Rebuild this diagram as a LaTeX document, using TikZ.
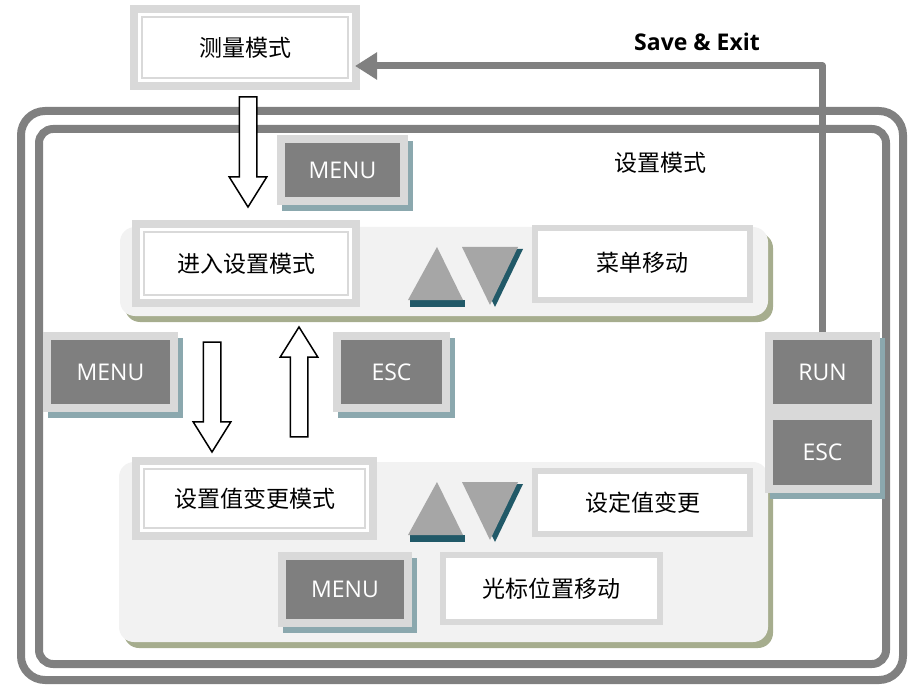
\documentclass[tikz,border=0pt]{standalone}
\usepackage{fontspec}
\usepackage{tikz}
\usetikzlibrary{arrows.meta,shapes.arrows}
\setmainfont{Open Sans}
\newfontfamily\cjk{Noto Sans CJK SC}

\definecolor{framegrey}{RGB}{217,217,217}
\definecolor{keygrey}{RGB}{127,127,127}
\definecolor{linegrey}{RGB}{128,128,128}
\definecolor{keyshadow}{RGB}{139,168,174}
\definecolor{panelfill}{RGB}{242,242,242}
\definecolor{panelshadow}{RGB}{166,173,142}
\definecolor{trifill}{RGB}{166,166,166}
\definecolor{trishadow}{RGB}{33,89,104}

\tikzset{
	modebox/.style={shape=rectangle,fill=white,draw=framegrey,line width=2pt,inner sep=0pt,outer sep=12pt,
		font=\cjk\fontsize{23}{23}\selectfont,
		preaction={draw=framegrey,line width=24pt},
		preaction={draw=white,line width=8pt}},
	valuebox/.style={shape=rectangle,fill=white,draw=framegrey,line width=6pt,inner sep=0pt,
		font=\cjk\fontsize{23}{23}\selectfont},
	keybox/.style={shape=rectangle,fill=keygrey,draw=framegrey,line width=8pt,inner sep=0pt,
		text=white,font=\fontsize{23}{23}\selectfont,
		preaction={draw=keyshadow,fill=keyshadow,transform canvas={xshift=5pt,yshift=-6pt}}},
	hollowarrow/.style={single arrow,draw=black,fill=white,line width=1.5pt,inner sep=8pt,
		minimum height=110pt,single arrow head extend=10pt,single arrow tip angle=64},
	flowline/.style={draw=linegrey,line width=7pt,line join=round,-{Triangle[length=22pt,width=26pt]}},
	frameline/.style={draw=linegrey,line width=8pt}
}

% up and down keys, #1,#2 = top left corner
\newcommand{\arrowkeys}[2]{%
	\begin{scope}[shift={(#1,#2)}]
		\fill[trishadow] (2,53) rectangle (57,60);
		\fill[trifill] (29,0) -- (55,53) -- (0,53) -- cycle;
		\fill[trishadow] (59,2) -- (115,2) -- (87,60) -- cycle;
		\fill[trifill] (54,0) -- (110,0) -- (82,58) -- cycle;
	\end{scope}}

\begin{document}
\begin{tikzpicture}[x=1pt,y=-1pt]
	\useasboundingbox (0,0) rectangle (908,687);

	% frames and panels
	\draw[frameline,rounded corners=24pt] (21,111) rectangle (903,680);
	\draw[frameline,rounded corners=14pt] (39,129) rectangle (886,664);
	\fill[panelshadow,rounded corners=15pt] (125,233) rectangle (773,322);
	\fill[panelfill,rounded corners=15pt] (120,227) rectangle (768,316);
	\fill[panelshadow,rounded corners=15pt] (124,468) rectangle (773,648);
	\fill[panelfill,rounded corners=15pt] (119,462) rectangle (768,642);

	\node [modebox,minimum width=206pt,minimum height=61pt] (measure) at (245,47.5) {测量模式};
	\node [font=\cjk\fontsize{23}{23}\selectfont] (setmode) at (660,163) {设置模式};
	\node [modebox,minimum width=204pt,minimum height=63pt] (enter) at (246,263.5) {进入设置模式};
	\node [modebox,minimum width=221pt,minimum height=59pt] (change) at (254.5,498.5) {设置值变更模式};

	\node [valuebox,minimum width=215pt,minimum height=72pt] (menumove) at (642.5,264) {\raisebox{5pt}{菜单移动}};
	\node [valuebox,minimum width=215pt,minimum height=63pt] (valuechange) at (642.5,502.5) {设定值变更};
	\node [valuebox,minimum width=217pt,minimum height=67pt] (cursor) at (551.5,588.5) {光标位置移动};

	\node [keybox,minimum width=123pt,minimum height=62pt] (menuA) at (342.5,170) {MENU};
	\node [keybox,minimum width=127pt,minimum height=72pt] (menuB) at (110.5,372) {MENU};
	\node [keybox,minimum width=109pt,minimum height=72pt] (escA) at (391.5,372) {ESC};
	\node [keybox,minimum width=126pt,minimum height=67pt] (menuC) at (345,589.5) {MENU};
	\node [keybox,minimum width=107pt,minimum height=72pt] (run) at (822.5,372) {RUN};
	\node [keybox,minimum width=107pt,minimum height=73pt] (escB) at (822.5,452.5) {ESC};

	\arrowkeys{408}{247}
	\arrowkeys{408}{482}

	\node [hollowarrow,shape border rotate=270] (downA) at (248,145) {};
	\node [hollowarrow,shape border rotate=270] (downB) at (212,390) {};
	\node [hollowarrow,shape border rotate=90] (upA) at (299,389) {};

	\coordinate (corner) at (822.5,66);
	\draw [flowline,shorten >=-5pt] (run.north) -- (corner) -- (corner -| measure.east);
	\node [font=\bfseries\fontsize{23}{23}\selectfont] (saveexit) at (697,42) {Save \& Exit};
\end{tikzpicture}
\end{document}
